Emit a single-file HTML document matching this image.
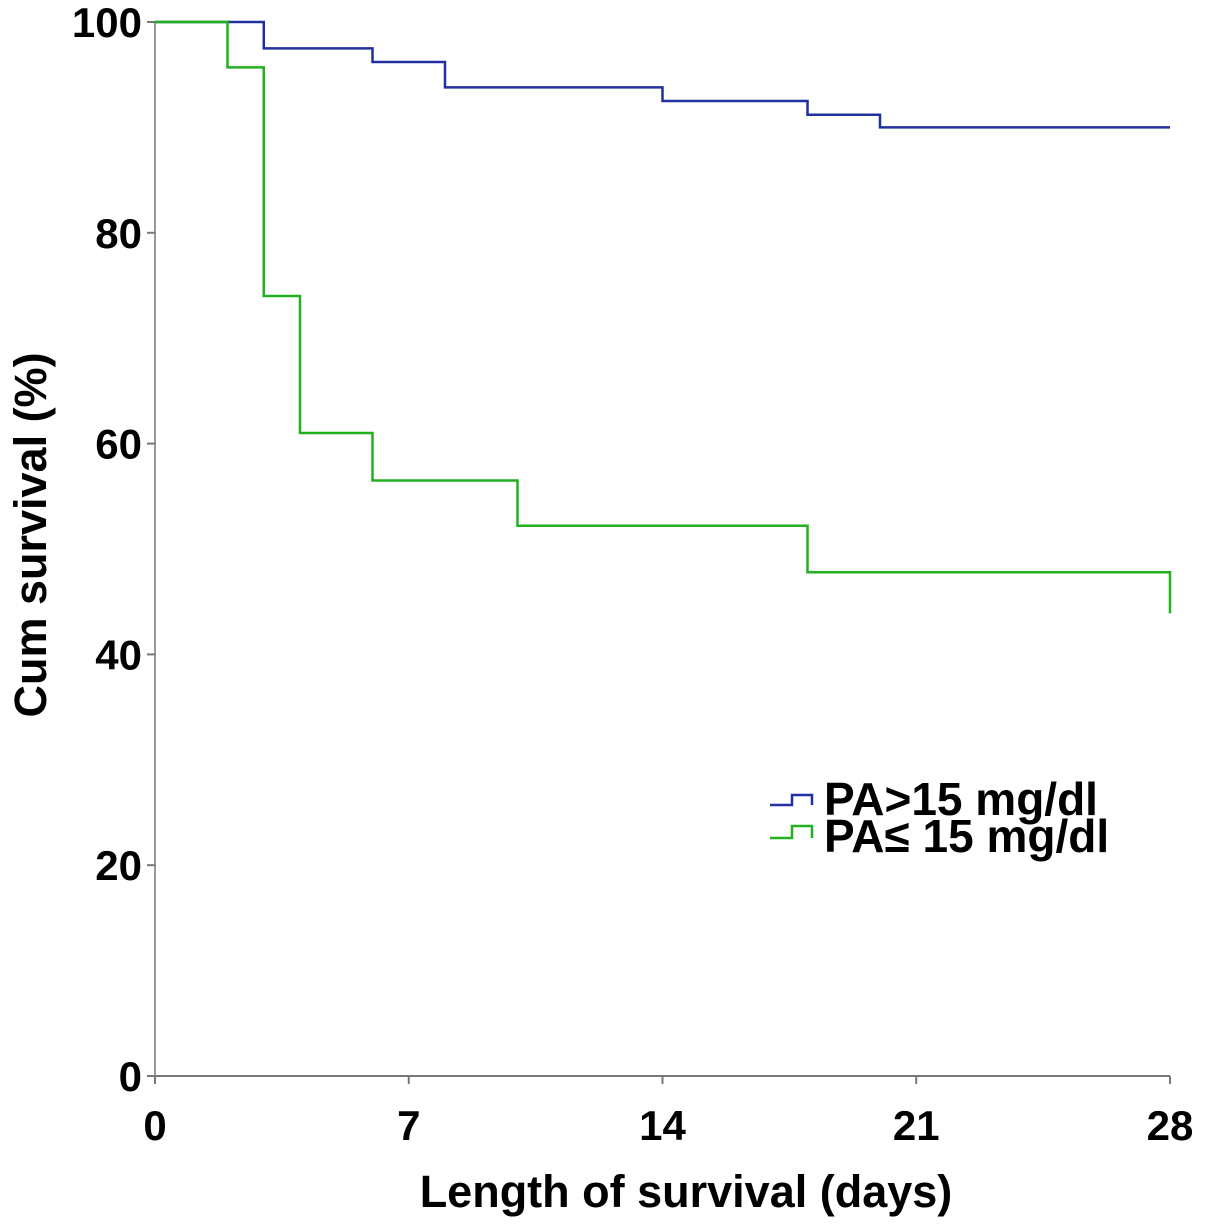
<!DOCTYPE html>
<html><head><meta charset="utf-8"><style>
html,body{margin:0;padding:0;background:#fff;}
svg{display:block;font-family:"Liberation Sans",Arial,sans-serif;font-weight:bold;}
</style></head><body>
<svg id="chart" width="1205" height="1227" viewBox="0 0 1205 1227">
<g id="axes"></g><g id="series"></g>
<g>
 <path d="M770 805 H792 V795 H812 V805" fill="none" stroke="#2030a0" stroke-width="2.5"/>
 <text x="824" y="815" font-size="46" fill="#000">PA&gt;15 mg/dl</text>
 <path d="M770 838 H792 V826 H812 V838" fill="none" stroke="#20b020" stroke-width="2.5"/>
 <text x="824" y="852" font-size="46" fill="#000">PA≤ 15 mg/dl</text>
</g>
<text x="686" y="1207" font-size="45" text-anchor="middle">Length of survival (days)</text>
<text transform="translate(46,535) rotate(-90)" font-size="45" text-anchor="middle">Cum survival (%)</text>
</svg>
<script>
const xTicks=[0,7,14,21,28];
const yTicks=[0,20,40,60,80,100];
const highTimes=[0,3,6,8,14,18,20,28];
const highVals=[100,97.5,96.2,93.8,92.5,91.2,90,90];
const lowTimes=[0,2,3,4,6,10,18,28];
const lowVals=[100,95.7,74,61,56.5,52.2,47.8,43.9];
const X=d=>155+d*(1170-155)/28;
const Y=v=>1076-v*(1076-22)/100;
const NS="http://www.w3.org/2000/svg";
const axes=document.getElementById('axes');
function mk(t,a,p){const e=document.createElementNS(NS,t);for(const k in a)e.setAttribute(k,a[k]);p.appendChild(e);return e;}
let l=mk('line',{x1:X(0),y1:Y(0),x2:X(28),y2:Y(0),stroke:'#777','stroke-width':2},axes);


l=mk('line',{x1:X(0),y1:Y(0),x2:X(0),y2:Y(100),stroke:'#999','stroke-width':2},axes);


xTicks.forEach(t=>{
 const k=mk('line',{x1:X(t),y1:Y(0),x2:X(t),y2:Y(0)+8,stroke:'#777','stroke-width':2},axes);
 
 
 const tx=mk('text',{x:X(t),y:1140,'font-size':42,'text-anchor':'middle'},axes);tx.textContent=t;
 
 
});
yTicks.forEach(t=>{
 const k=mk('line',{x1:X(0)-8,y1:Y(t),x2:X(0),y2:Y(t),stroke:'#777','stroke-width':2},axes);
 
 
 const tx=mk('text',{x:142,y:Y(t)+15,'font-size':42,'text-anchor':'end'},axes);tx.textContent=t;
 
 
});
const ser=document.getElementById('series');
function step(ts,vs,col,name){
 let d='M'+X(ts[0])+' '+Y(vs[0]);
 for(let i=1;i<ts.length;i++){d+=' H'+X(ts[i])+' V'+Y(vs[i]);}
 const p=mk('path',{d:d,fill:'none',stroke:col,'stroke-width':2.5},ser);
 
 
}
step(highTimes,highVals,'#2030a0','curve-pa-high');
step(lowTimes,lowVals,'#20b020','curve-pa-low');
</script>
</body></html>
